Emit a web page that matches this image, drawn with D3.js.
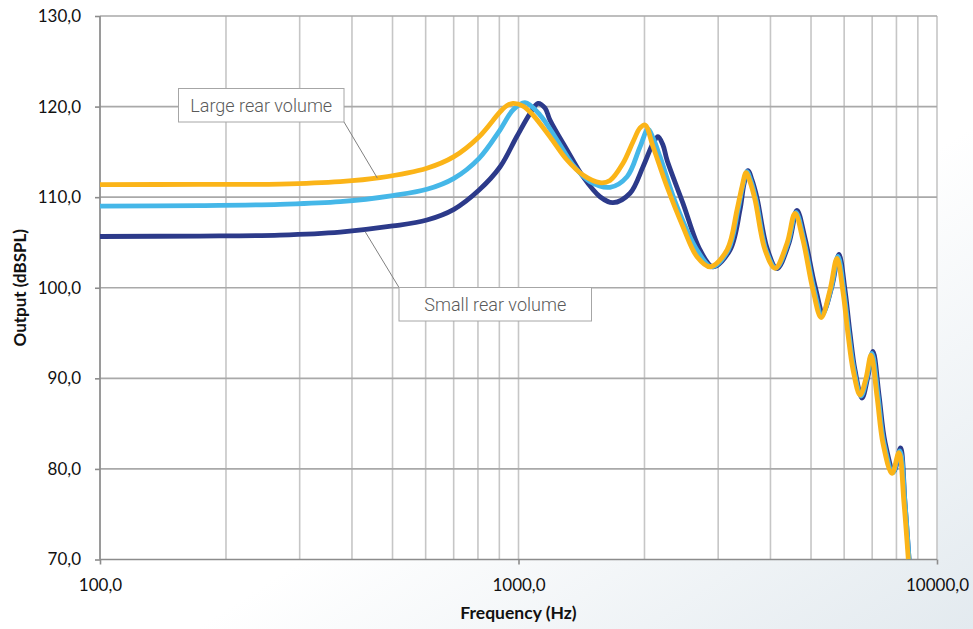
<!DOCTYPE html>
<html>
<head>
<meta charset="utf-8">
<script src="https://cdn.jsdelivr.net/npm/d3@7"></script>
<style>
  html, body { margin: 0; padding: 0; background: #fff; }
  svg { display: block; }
</style>
</head>
<body>
<svg id="chart" width="973" height="629"></svg>
<script>
// ---------- DATA ----------
const xTickValues = [100, 1000, 10000];
const yTickValues = [70, 80, 90, 100, 110, 120, 130];

const seriesNames = ["Small rear volume", "Medium rear volume", "Large rear volume"];
const seriesColors = ["#2c3a8a", "#45b7e8", "#fbb418"];

// Small rear volume (navy)
const freqSmall = [100,173,269,375,501,604,701,805,903,990,1066,1113,1157,1189,1306,1426,1566,1682,1847,1984,2097,2154,2214,2264,2472,2715,2916,3202,3382,3458,3535,3614,3715,3925,4147,4430,4628,4836,5111,5341,5612,5832,6028,6196,6369,6619,6841,7033,7268,7512,7893,8180,8385,8576];
const dbSmall   = [105.66,105.71,105.82,106.15,106.82,107.48,108.66,110.79,113.33,116.67,119.26,120.36,119.84,118.52,115.21,112.26,110.05,109.39,110.43,113.36,115.95,116.67,115.76,114.10,109.32,104.17,102.32,104.17,108.58,111.45,112.94,111.89,109.91,104.39,102.12,104.94,108.53,105.49,100.19,97.32,100.19,103.67,99.75,95.00,90.92,87.83,90.26,92.96,88.16,82.97,79.77,82.31,76.23,70.0];

// Medium rear volume (light blue)
const freqMedium = [100,173,269,375,501,604,701,805,903,970,1036,1126,1236,1350,1482,1654,1817,1952,2040,2097,2178,2392,2670,2893,3171,3345,3439,3516,3594,3696,3903,4125,4405,4603,4809,5082,5311,5580,5800,5994,6164,6337,6583,6804,6994,7230,7469,7848,8154,8385,8576];
const dbMedium   = [109.02,109.07,109.21,109.50,110.18,110.87,112.08,114.29,117.41,119.62,120.43,119.07,116.31,113.55,111.71,111.09,112.26,115.57,117.52,116.53,114.47,108.95,104.17,102.32,104.17,108.58,111.34,112.81,111.78,109.69,104.17,102.18,104.94,108.33,105.27,99.86,96.99,99.86,103.45,99.53,94.78,90.92,88.05,90.14,92.74,88.05,82.86,79.60,81.98,76.23,70.0];

// Large rear volume (orange)
const freqLarge = [100,173,269,375,467,604,701,805,903,939,970,1025,1083,1189,1306,1426,1566,1654,1777,1878,1952,2006,2097,2264,2472,2670,2869,3150,3327,3420,3497,3574,3675,3882,4102,4381,4578,4783,5054,5285,5550,5768,5962,6131,6302,6547,6767,6956,7190,7428,7805,8110,8339,8540];
const dbLarge   = [111.39,111.41,111.45,111.71,112.15,113.19,114.47,116.67,119.40,120.12,120.36,120.06,119.07,116.67,114.10,112.45,111.60,111.84,113.74,116.12,117.64,117.97,115.57,111.15,106.74,103.43,102.32,104.17,108.58,111.15,112.70,111.71,109.69,104.17,102.15,104.91,108.22,105.27,99.75,96.71,99.75,103.25,99.53,94.78,90.92,88.16,90.03,92.57,87.97,82.83,79.51,81.79,76.23,70.0];

const seriesFreqs = [freqSmall, freqMedium, freqLarge];
const seriesDbs = [dbSmall, dbMedium, dbLarge];

// Annotation anchors on curves (frequency, dB)
const annLarge = { text: "Large rear volume", f: 460, db: 112.1 };
const annSmall = { text: "Small rear volume", f: 430, db: 106.2 };

// ---------- LAYOUT ----------
const W = 973, H = 629;
const plot = { left: 100, right: 937, top: 16, bottom: 559.5 };

const svg = d3.select("#chart");
const defs = svg.append("defs");

const grad = defs.append("linearGradient").attr("id", "bg")
  .attr("x1", "0").attr("y1", "0").attr("x2", "1").attr("y2", "1");
grad.append("stop").attr("offset", "0.6").attr("stop-color", "#ffffff");
grad.append("stop").attr("offset", "1").attr("stop-color", "#e3eaef");
svg.append("rect").attr("width", W).attr("height", H).attr("fill", "url(#bg)");

svg.append("rect")
  .attr("x", plot.left).attr("y", plot.top)
  .attr("width", plot.right - plot.left).attr("height", plot.bottom - plot.top)
  .attr("fill", "#ffffff");

const x = d3.scaleLog().domain([100, 10000]).range([plot.left, plot.right]);
const y = d3.scaleLinear().domain([70, 130]).range([plot.bottom, plot.top]);

const fmt = v => d3.format(".1f")(v).replace(".", ",");
const tickFont = "Lato, 'Open Sans', sans-serif";

// vertical gridlines (log 1..9 per decade)
const gx = svg.append("g");
gx.selectAll("line").data(x.ticks()).join("line")
  .attr("x1", d => x(d)).attr("x2", d => x(d))
  .attr("y1", plot.top).attr("y2", plot.bottom)
  .attr("stroke", "#c6c6c6").attr("stroke-width", 1.6);

// horizontal gridlines
const gy = svg.append("g");
gy.selectAll("line").data(yTickValues).join("line")
  .attr("x1", plot.left).attr("x2", plot.right)
  .attr("y1", d => y(d)).attr("y2", d => y(d))
  .attr("stroke", d => d === 70 ? "#8c8c8c" : "#a9a9a9").attr("stroke-width", 1.6);

// left axis line
svg.append("line")
  .attr("x1", plot.left).attr("x2", plot.left)
  .attr("y1", plot.top).attr("y2", plot.bottom)
  .attr("stroke", "#8c8c8c").attr("stroke-width", 1.6);

// y axis ticks + labels
const yAxis = d3.axisLeft(y).tickValues(yTickValues).tickSize(5).tickPadding(14).tickFormat(fmt);
const ya = svg.append("g").attr("transform", `translate(${plot.left},0)`).call(yAxis);
ya.select(".domain").remove();
ya.selectAll(".tick line").attr("stroke", "#8c8c8c").attr("stroke-width", 1.6);
ya.selectAll(".tick text").attr("font-family", tickFont).attr("font-size", 17).attr("fill", "#111");

// x axis ticks + labels
const xAxis = d3.axisBottom(x).tickValues(xTickValues).tickSize(5).tickPadding(14).tickFormat(fmt);
const xa = svg.append("g").attr("transform", `translate(0,${plot.bottom})`).call(xAxis);
xa.select(".domain").remove();
xa.selectAll(".tick line").attr("stroke", "#8c8c8c").attr("stroke-width", 1.6);
xa.selectAll(".tick text").attr("font-family", tickFont).attr("font-size", 17).attr("fill", "#111");

// axis titles
svg.append("text")
  .attr("x", (plot.left + plot.right) / 2).attr("y", 619)
  .attr("text-anchor", "middle")
  .attr("font-family", tickFont).attr("font-weight", "bold").attr("font-size", 17.5)
  .attr("fill", "#111").text("Frequency (Hz)");
svg.append("text")
  .attr("transform", `translate(26,${(plot.top + plot.bottom) / 2}) rotate(-90)`)
  .attr("text-anchor", "middle")
  .attr("font-family", tickFont).attr("font-weight", "bold").attr("font-size", 17)
  .attr("fill", "#111").text("Output (dBSPL)");

// clip for curves
defs.append("clipPath").attr("id", "clip").append("rect")
  .attr("x", plot.left).attr("y", plot.top - 10)
  .attr("width", plot.right - plot.left).attr("height", plot.bottom - plot.top + 10);

const line = d3.line()
  .x(d => x(d[0])).y(d => y(d[1]))
  .curve(d3.curveCatmullRom.alpha(0.5));

const curves = svg.append("g").attr("clip-path", "url(#clip)");
seriesNames.forEach((name, i) => {
  const pts = seriesFreqs[i].map((f, j) => [f, seriesDbs[i][j]]);
  curves.append("path").datum(pts)
    .attr("d", line)
    .attr("fill", "none")
    .attr("stroke", seriesColors[i])
    .attr("stroke-width", 4.8)
    .attr("stroke-linejoin", "round")
    .attr("stroke-linecap", "butt");
});

// annotations
const annFont = "Roboto, 'Open Sans', sans-serif";
function annotate(a, box, corner) {
  const cx = corner === "br" ? box.x + box.w : box.x;
  const cy = corner === "br" ? box.y + box.h : box.y;
  svg.append("line")
    .attr("x1", cx).attr("y1", cy)
    .attr("x2", x(a.f)).attr("y2", y(a.db))
    .attr("stroke", "#808080").attr("stroke-width", 1);
  svg.append("rect")
    .attr("x", box.x).attr("y", box.y).attr("width", box.w).attr("height", box.h)
    .attr("fill", "#ffffff").attr("stroke", "#a6a6a6").attr("stroke-width", 1);
  svg.append("text")
    .attr("x", box.x + box.w / 2).attr("y", box.y + box.h / 2 + 6.5)
    .attr("text-anchor", "middle")
    .attr("font-family", annFont).attr("font-weight", 300).attr("font-size", 18)
    .attr("fill", "#5a5a5a").text(a.text);
}
annotate(annLarge, { x: 178.5, y: 88.5, w: 165.5, h: 33.5 }, "br");
annotate(annSmall, { x: 399, y: 287.5, w: 192.5, h: 33.5 }, "tl");
</script>
</body>
</html>
